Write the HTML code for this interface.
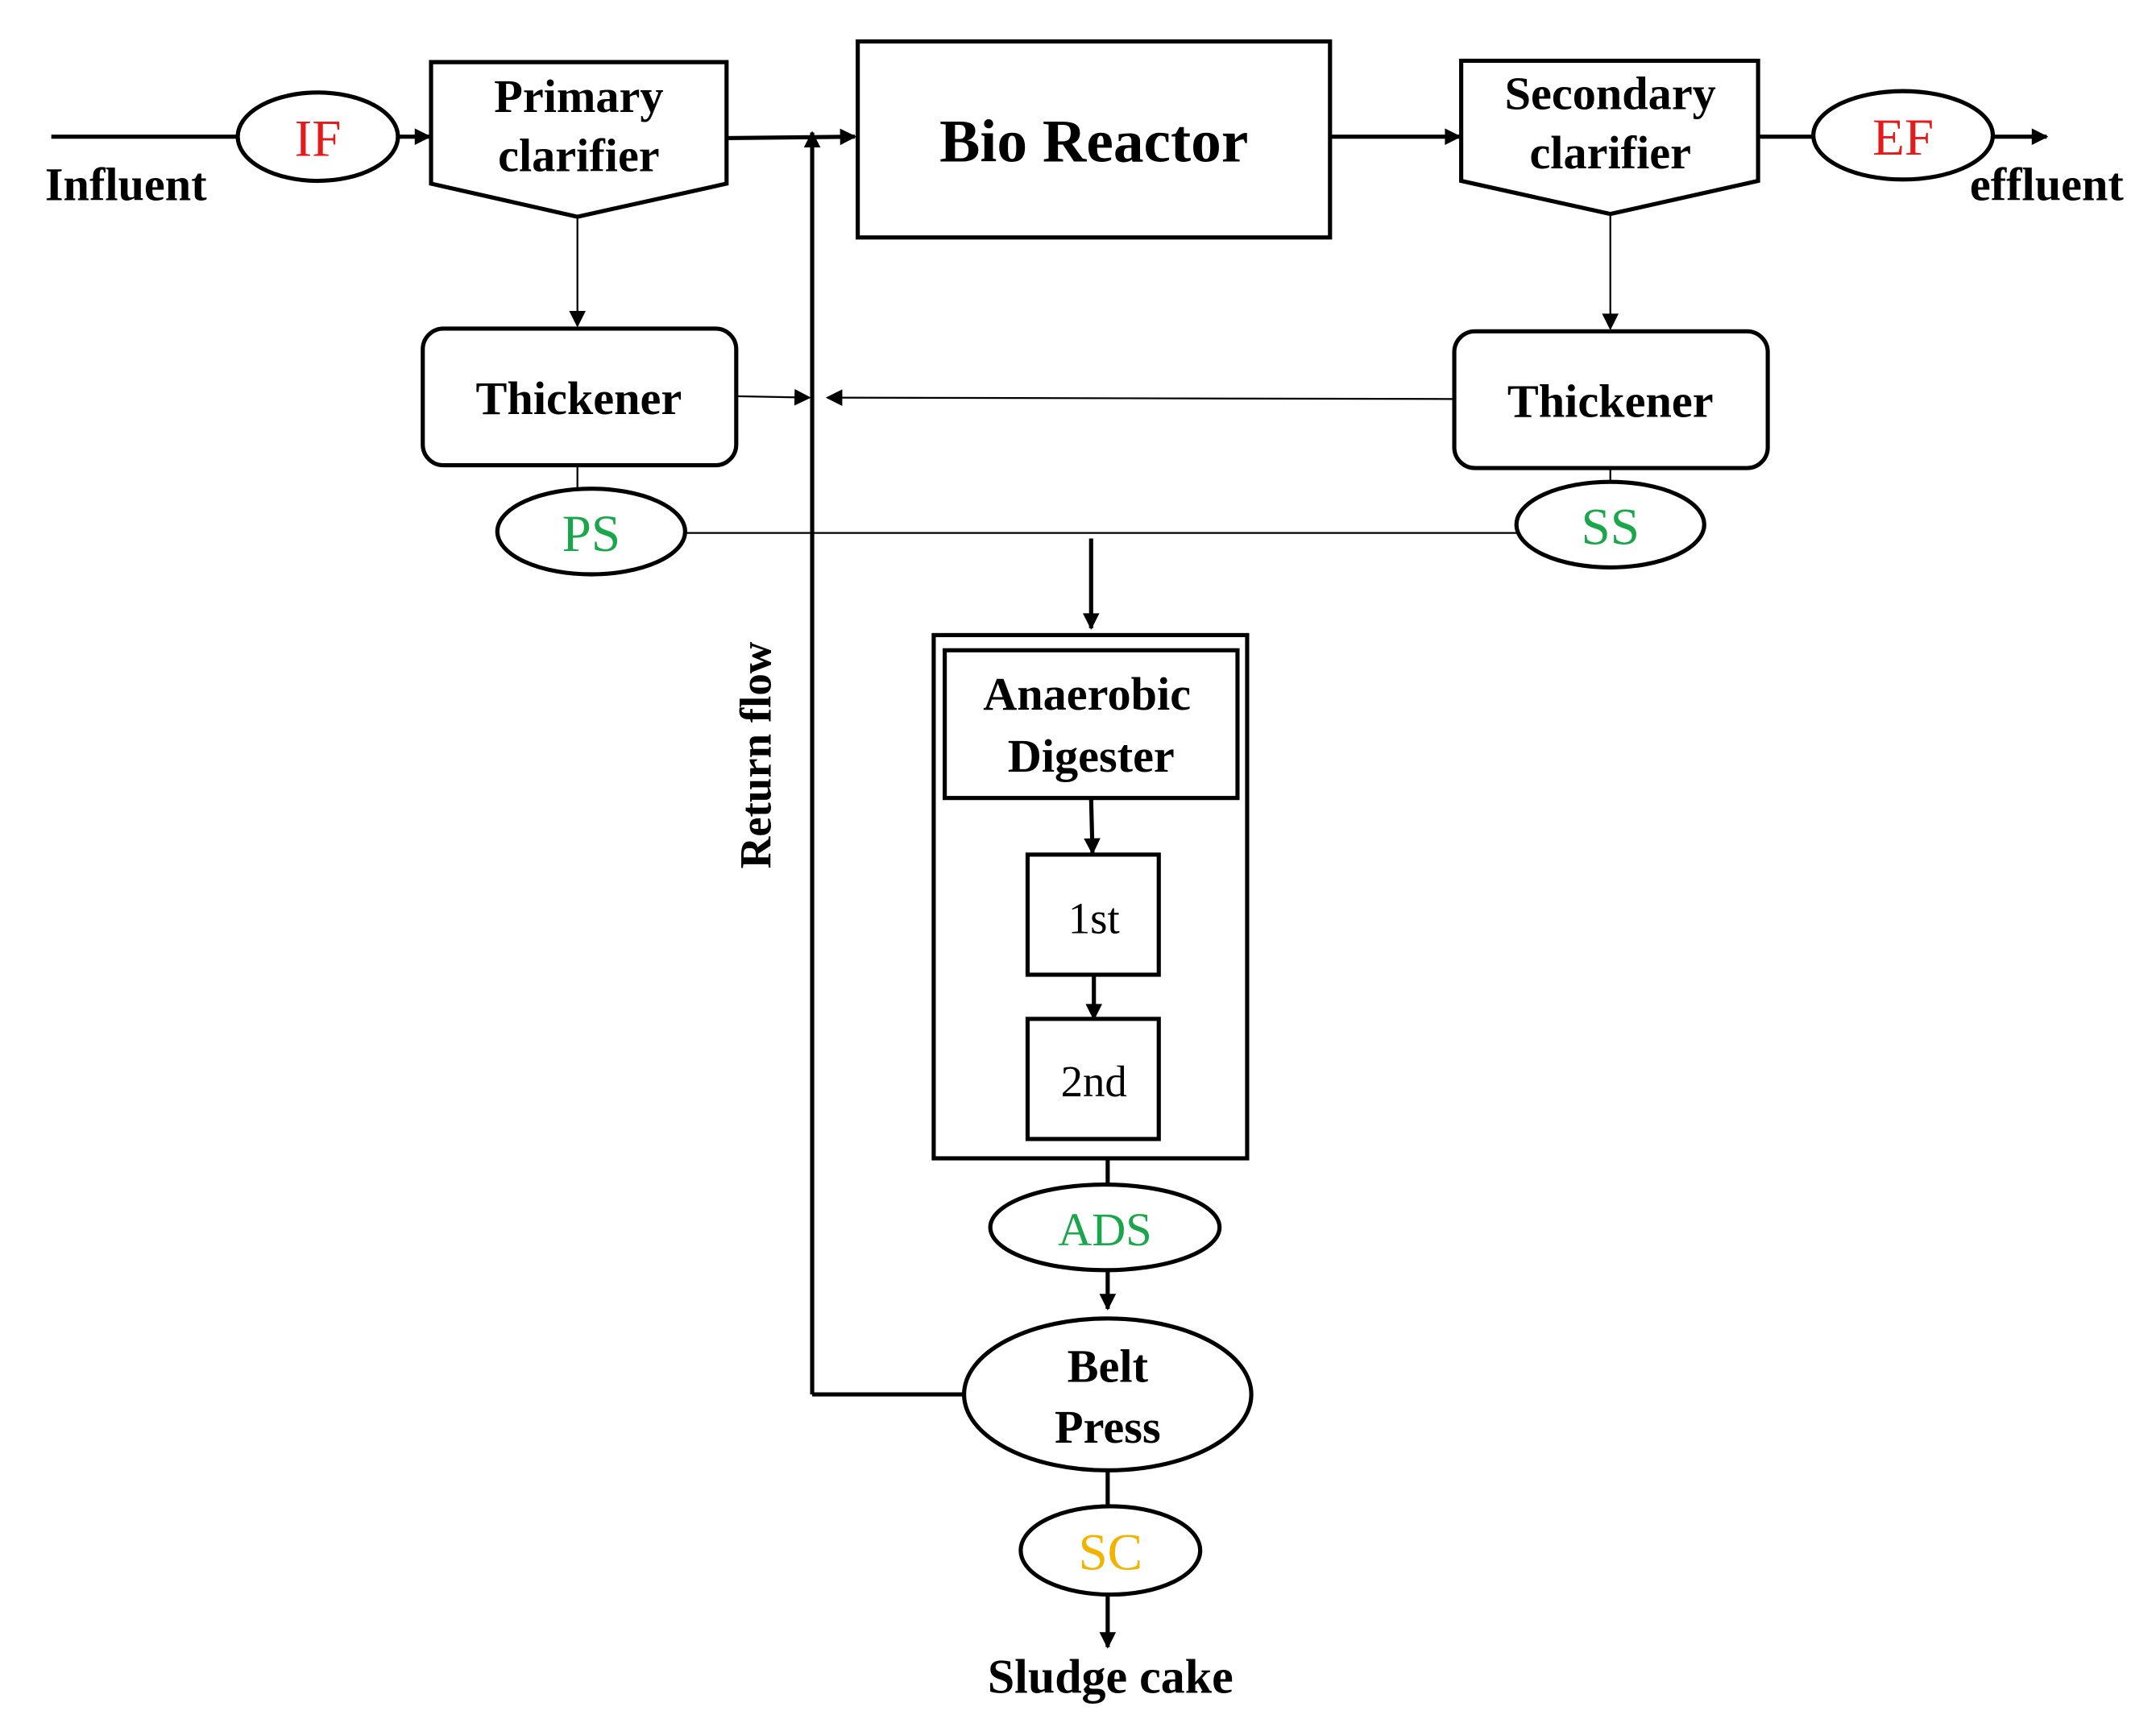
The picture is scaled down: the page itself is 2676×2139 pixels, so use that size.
<!DOCTYPE html>
<html><head><meta charset="utf-8"><style>html,body{margin:0;padding:0;background:#fff}svg{display:block}</style></head>
<body>
<svg width="2676" height="2139" viewBox="0 0 1561 1248" xmlns="http://www.w3.org/2000/svg" font-family="Liberation Serif, serif">
<defs>
<marker id="b" viewBox="0 0 10 10" refX="9" refY="5" markerWidth="14" markerHeight="12" orient="auto" markerUnits="userSpaceOnUse"><path d="M0,0L10,5L0,10z" fill="#000"/></marker>
</defs>
<g fill="none" stroke="#000" stroke-width="3">
<line x1="37" y1="99" x2="172" y2="99"/>
<ellipse cx="230" cy="99" rx="58" ry="32"/>
<line x1="288" y1="99" x2="311" y2="99" marker-end="url(#b)"/>
<path d="M312,45H526V133L418,157L312,133Z"/>
<line x1="526" y1="100" x2="619" y2="99" marker-end="url(#b)"/>
<line x1="588" y1="1010" x2="588" y2="96" marker-end="url(#b)"/>
<polyline points="698,1010 588,1010"/>
<rect x="621" y="30" width="342" height="142"/>
<line x1="963" y1="99" x2="1057" y2="99" marker-end="url(#b)"/>
<path d="M1058,44H1273V131L1166,155L1058,131Z"/>
<line x1="1273" y1="99" x2="1313" y2="99"/>
<ellipse cx="1378" cy="98" rx="65" ry="32"/>
<line x1="1443" y1="99" x2="1482" y2="99" marker-end="url(#b)"/>
<rect x="306" y="238" width="227" height="99" rx="15"/>
<rect x="1053" y="240" width="227" height="99" rx="15"/>
<ellipse cx="428" cy="385" rx="68" ry="31"/>
<ellipse cx="1166" cy="380" rx="68" ry="31"/>
<rect x="676" y="460" width="227" height="379"/>
<rect x="684" y="471" width="212" height="107"/>
<rect x="744" y="619" width="95" height="87"/>
<rect x="744" y="738" width="95" height="87"/>
<ellipse cx="800" cy="889" rx="83" ry="31"/>
<ellipse cx="802" cy="1010" rx="104" ry="55"/>
<ellipse cx="804" cy="1123" rx="65" ry="32"/>
<line x1="790" y1="390" x2="790" y2="455" marker-end="url(#b)"/>
<line x1="790" y1="578" x2="791" y2="618" marker-end="url(#b)"/>
<line x1="792" y1="706" x2="792" y2="738" marker-end="url(#b)"/>
<line x1="802" y1="839" x2="802" y2="858"/>
<line x1="802" y1="920" x2="802" y2="948" marker-end="url(#b)"/>
<line x1="802" y1="1065" x2="802" y2="1091"/>
<line x1="802" y1="1155" x2="802" y2="1193" marker-end="url(#b)"/>
</g>
<g fill="none" stroke="#000" stroke-width="1.3">
<line x1="418" y1="157" x2="418" y2="236" marker-end="url(#b)"/>
<line x1="1166" y1="155" x2="1166" y2="238" marker-end="url(#b)"/>
<line x1="533" y1="287" x2="586" y2="288" marker-end="url(#b)"/>
<line x1="1053" y1="289" x2="599" y2="288" marker-end="url(#b)"/>
<line x1="418" y1="337" x2="418" y2="354"/>
<line x1="1166" y1="339" x2="1166" y2="349"/>
<line x1="497" y1="386" x2="1098" y2="386"/>
</g>
<g font-weight="bold" text-anchor="middle" fill="#000">
<text x="91" y="145" font-size="34">Influent</text>
<text x="1482" y="145" font-size="34">effluent</text>
<text x="419" y="81" font-size="34">Primary</text>
<text x="419" y="124" font-size="34">clarifier</text>
<text x="1166" y="79" font-size="34">Secondary</text>
<text x="1166" y="122" font-size="34">clarifier</text>
<text x="792" y="117" font-size="44">Bio Reactor</text>
<text x="419" y="300" font-size="34">Thickener</text>
<text x="1166" y="302" font-size="34">Thickener</text>
<text x="787" y="514" font-size="34">Anaerobic</text>
<text x="790" y="559" font-size="34">Digester</text>
<text x="802" y="1001" font-size="34">Belt</text>
<text x="802" y="1045" font-size="34">Press</text>
<text x="804" y="1226" font-size="35">Sludge cake</text>
<text transform="translate(558,547) rotate(-90)" font-size="32">Return flow</text>
</g>
<g text-anchor="middle" font-size="38">
<text x="230" y="113" fill="#e31b1b">IF</text>
<text x="1378" y="112" fill="#e31b1b">EF</text>
<text x="428" y="399" fill="#1aa64a">PS</text>
<text x="1166" y="394" fill="#1aa64a">SS</text>
<text x="800" y="902" fill="#1aa64a" font-size="34">ADS</text>
<text x="804" y="1137" fill="#f0b400">SC</text>
<text x="792" y="676" fill="#000" font-size="32">1st</text>
<text x="792" y="794" fill="#000" font-size="32">2nd</text>
</g>
</svg>
</body></html>
